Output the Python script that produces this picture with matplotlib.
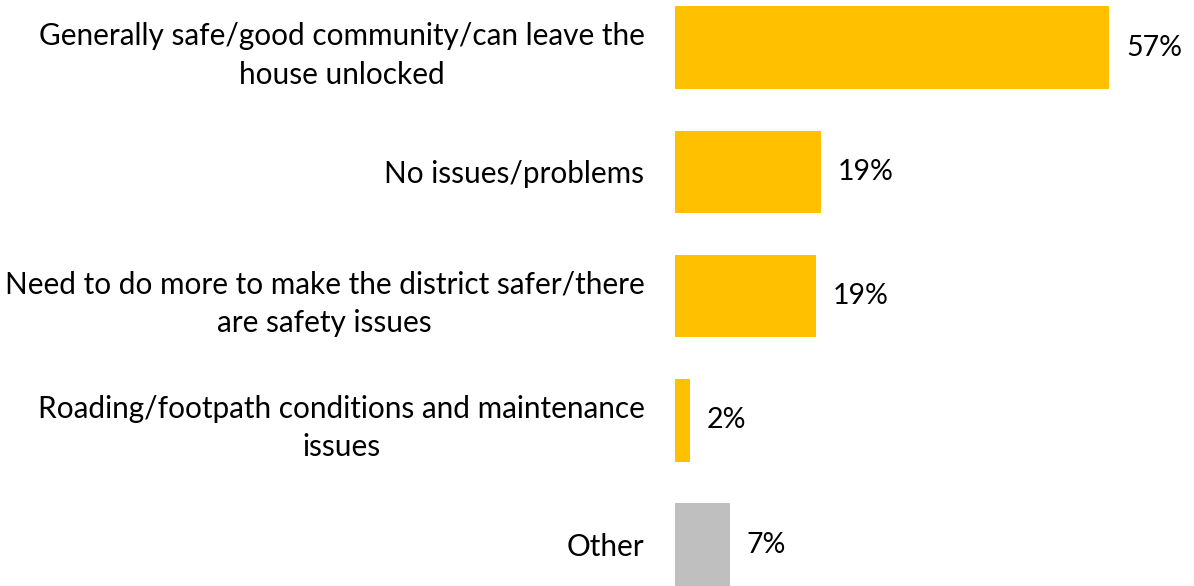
import matplotlib.pyplot as plt

categories = [
    "Generally safe/good community/can leave the\nhouse unlocked",
    "No issues/problems",
    "Need to do more to make the district safer/there\nare safety issues",
    "Roading/footpath conditions and maintenance\nissues",
    "Other",
]
values = [57.0, 19.2, 18.5, 2.0, 7.2]
value_labels = ["57%", "19%", "19%", "2%", "7%"]
colors = ["#FFC000", "#FFC000", "#FFC000", "#FFC000", "#BFBFBF"]

plt.rcParams['font.family'] = ['Lato', 'DejaVu Sans']

fig = plt.figure(figsize=(11.94, 5.86), dpi=100)
ax = fig.add_axes([675 / 1194, 0, 519 / 1194, 1])

y = list(range(len(categories)))
ax.barh(y, values, height=0.665, color=colors)
ax.set_ylim(4.333, -0.384)
ax.set_xlim(0, 519 / 7.62)

for yi, v, lab in zip(y, values, value_labels):
    ax.annotate(lab, (v, yi), xytext=(12, 0), textcoords="offset points",
                ha="left", va="center", fontsize=20.5)

ax.set_yticks(y)
ax.set_yticklabels(categories, fontsize=21.4, multialignment="center",
                   linespacing=1.45)
ax.tick_params(axis="y", length=0, pad=22)
ax.set_xticks([])
for s in ax.spines.values():
    s.set_visible(False)

fig.savefig("out.png", dpi=100)
